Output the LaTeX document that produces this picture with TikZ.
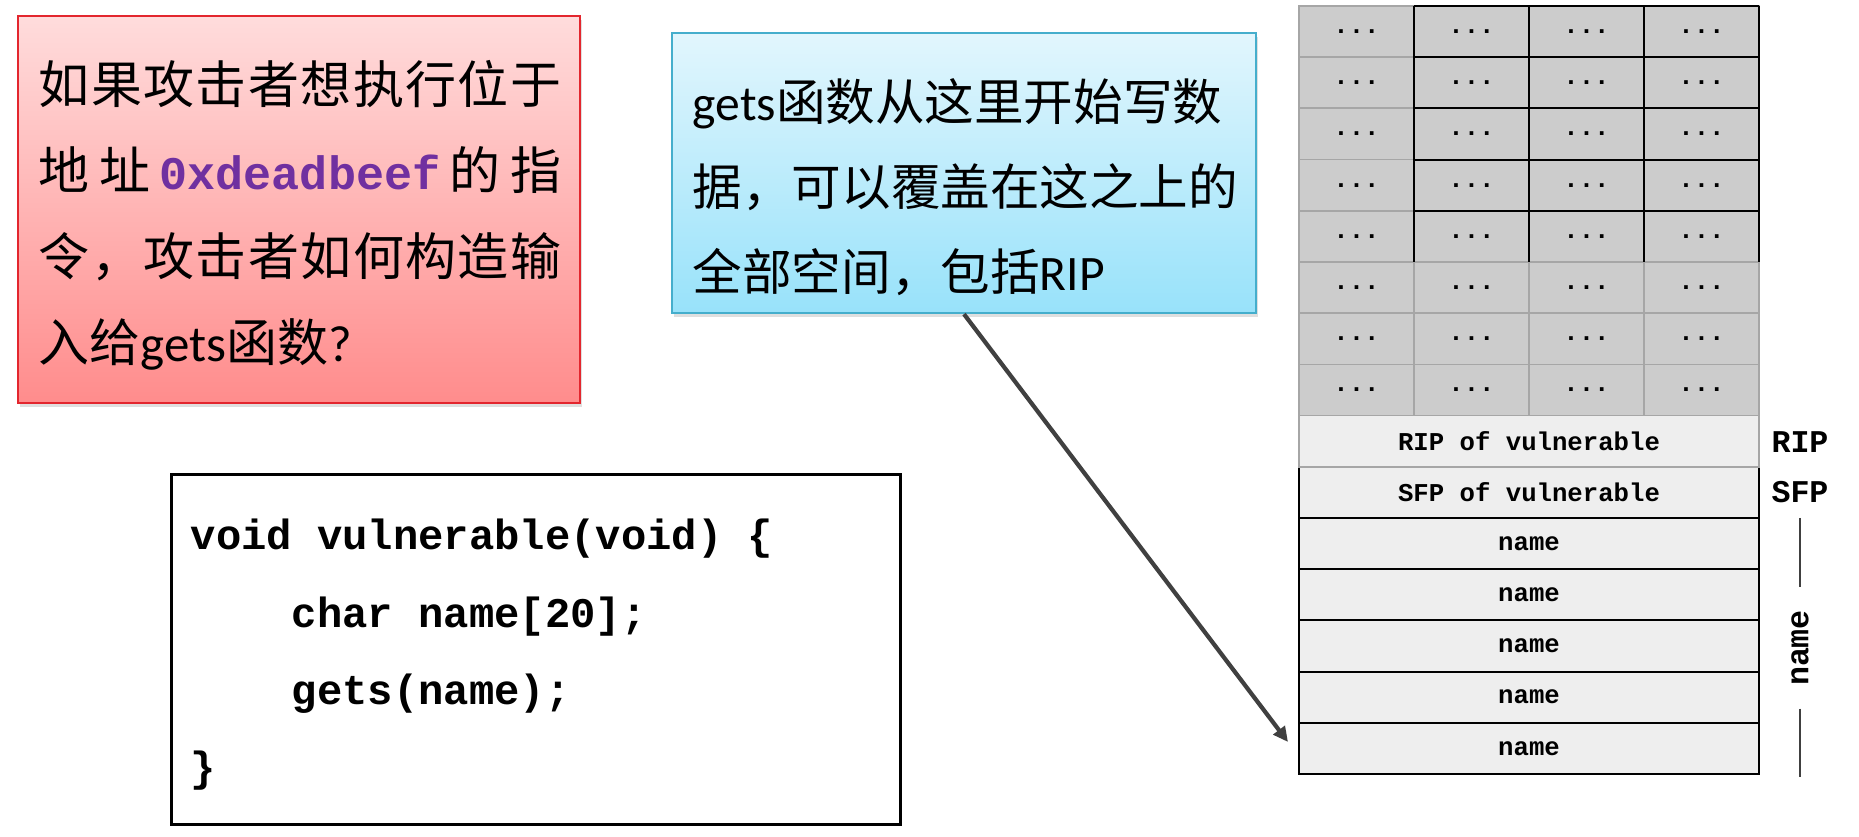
\documentclass[tikz,border=0pt]{standalone}
\usepackage{fontspec}
\setmainfont{Carlito}
\setmonofont{Liberation Mono}
\newfontfamily\cjk{Noto Sans CJK SC}
\usetikzlibrary{arrows.meta, positioning, shadows}
\definecolor{qtop}{HTML}{FFDCDC}
\definecolor{qbot}{HTML}{FF8C8C}
\definecolor{qedge}{HTML}{E3262E}
\definecolor{htop}{HTML}{E2F6FD}
\definecolor{hbot}{HTML}{98E2FA}
\definecolor{hedge}{HTML}{45AECC}
\definecolor{addrpurple}{HTML}{7030A0}
\definecolor{cellgray}{HTML}{CCCCCC}
\definecolor{celllight}{HTML}{EEEEEE}
\definecolor{cellline}{HTML}{A6A6A6}
\definecolor{arrowgray}{HTML}{404040}

\newcommand\spreadline[1]{\makebox[5.22cm][s]{#1}}

\begin{document}
\begin{tikzpicture}[
    x=0.01cm, y=-0.01cm,
    >={Triangle[length=0.15cm, width=0.14cm]},
    qbox/.style={draw=qedge, line width=0.6pt, top color=qtop, bottom color=qbot,
      minimum width=5.62cm, minimum height=3.87cm, inner sep=0,
      drop shadow={shadow xshift=0.02cm, shadow yshift=-0.04cm, opacity=0.25}},
    hintbox/.style={draw=hedge, line width=0.6pt, top color=htop, bottom color=hbot,
      minimum width=5.84cm, minimum height=2.80cm, inner sep=0,
      drop shadow={shadow xshift=0.02cm, shadow yshift=-0.04cm, opacity=0.25}},
    codebox/.style={draw=black, line width=0.9pt, fill=white,
      minimum width=7.28cm, minimum height=3.49cm},
    cjktext/.style={font=\cjk\fontsize{14.5}{24.5}\selectfont, inner sep=0, align=left},
    codetext/.style={font=\ttfamily\bfseries\fontsize{12}{22}\selectfont, inner sep=0, align=left},
    dotcell/.style={draw=cellline, line width=0.5pt, fill=cellgray,
      minimum width=1.15cm, minimum height=0.512cm, inner sep=0, outer sep=0,
      font=\ttfamily\bfseries\fontsize{7.3}{8}\selectfont},
    ripcell/.style={dotcell, fill=celllight, minimum width=4.6cm},
    framecell/.style={ripcell, draw=black, line width=0.6pt},
    blackrule/.style={black, line width=0.6pt},
    sidelbl/.style={font=\ttfamily\bfseries\fontsize{9}{10}\selectfont, inner sep=0},
    bracket/.style={arrowgray, line width=0.5pt},
    writearrow/.style={->, arrowgray, line width=1.2pt},
  ]

  % Background
  \fill[white] (0,0) rectangle (1859,837);
  \useasboundingbox (0,0) rectangle (1859,837);

  % Question box
  \node[qbox] (qbg) at (299,209.5) {};
  \node[cjktext, text width=5.22cm] (question) at (300,215.5) {%
    \spreadline{如\hfil 果\hfil 攻\hfil 击\hfil 者\hfil 想\hfil 执\hfil 行\hfil 位\hfil 于}\\
    \spreadline{地\hfil 址\hfil {\ttfamily\bfseries\fontsize{13.3}{24.5}\selectfont\color{addrpurple}0xdeadbeef}\hfil 的\hfil 指}\\
    \spreadline{令\hfil ，\hfil 攻\hfil 击\hfil 者\hfil 如\hfil 何\hfil 构\hfil 造\hfil 输}\\
    入给{\rmfamily gets}函数{\rmfamily ?}};

  % Hint box
  \node[hintbox] (hintbg) at (964,173) {};
  \node[cjktext, font=\cjk\fontsize{14.1}{24.2}\selectfont, anchor=west] (hint) at (692,187.5) {%
    {\rmfamily gets}函数从这里开始写数\\
    据，可以覆盖在这之上的\\
    全部空间，包括{\rmfamily RIP}};

  % Code box
  \node[codebox] (codebg) at (536,649.5) {};
  \node[codetext, anchor=west] (code) at (190,655) {%
    void vulnerable(void) \{\\
    \hspace*{2.4em}char name[20];\\
    \hspace*{2.4em}gets(name);\\
    \}};

  % Stack cells
  \foreach \r in {0,...,7}
    \foreach \c in {0,...,3}
      \node[dotcell] (d-\r-\c) at ({1356.5+115*\c},{31.6+51.2*\r}) {...};

  % Black frame on the upper block
  \foreach \r in {0,...,4}
    \draw[blackrule] (d-\r-1.north west) -- (d-\r-3.north east);
  \foreach \c in {1,2,3}
    \draw[blackrule] (d-0-\c.north west) -- (d-4-\c.south west);
  \draw[blackrule] (d-0-3.north east) -- (d-4-3.south east);

  % Frame rows
  \node[framecell] (sfp) at (1529,492.4) {SFP of vulnerable};
  \node[ripcell] (rip) at (1529,441.2) {RIP of vulnerable};
  \foreach \k in {0,...,4}
    \node[framecell] (n-\k) at (1529,{543.6+51.2*\k}) {name};

  % Side labels
  \node[sidelbl] (riplbl) at (1800,442) {RIP};
  \node[sidelbl] (sfplbl) at (1800,492) {SFP};
  \node[sidelbl, rotate=90, inner xsep=0.22cm] (namelbl) at (1800,648) {name};
  \coordinate (brtop) at (1800,518);
  \coordinate (brbot) at (1800,777);
  \draw[bracket] (brtop) -- (namelbl.east);
  \draw[bracket] (namelbl.west) -- (brbot);

  % Arrow to where gets starts writing
  \coordinate (writepos) at (1288,742);
  \draw[writearrow] (hintbg.south) -- (writepos);

\end{tikzpicture}
\end{document}
